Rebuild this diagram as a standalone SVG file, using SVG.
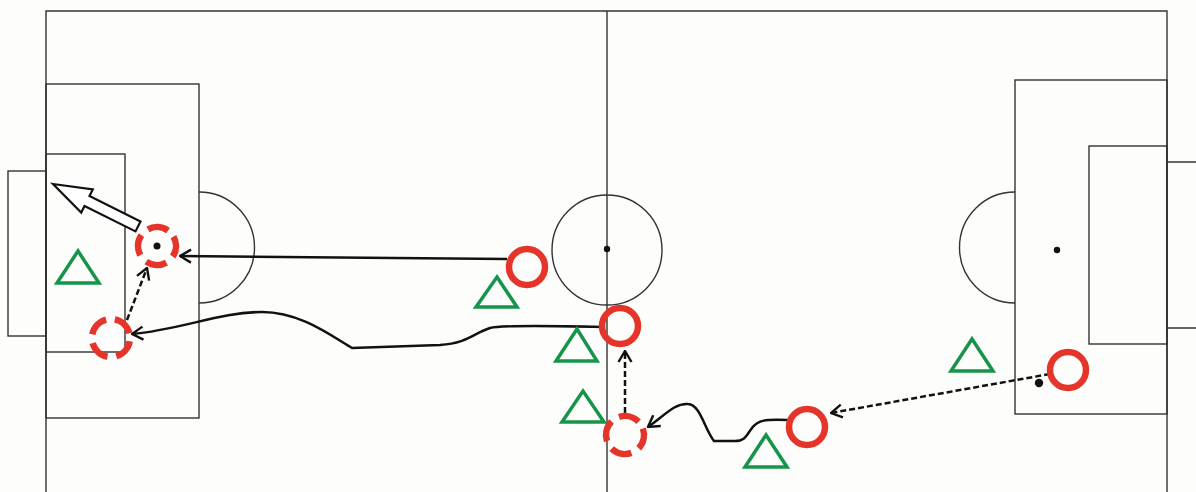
<svg xmlns="http://www.w3.org/2000/svg" width="1196" height="492" viewBox="0 0 1196 492">
<style>
.pitch{fill:none;stroke:#333;stroke-width:1.4}
.red{fill:none;stroke:#e5342a;stroke-width:6.5}
.reddash{fill:none;stroke:#e5342a;stroke-width:6.5;stroke-dasharray:21 8.85}
.tri{fill:none;stroke:#16954a;stroke-width:3.5;stroke-linejoin:miter}
.run{fill:none;stroke:#111;stroke-width:2.5}
.pass{fill:none;stroke:#111;stroke-width:2.5;stroke-dasharray:6 3}
</style>
<defs>
<marker id="ah" viewBox="0 0 13 16" refX="12" refY="8" markerWidth="13" markerHeight="16" markerUnits="userSpaceOnUse" orient="auto">
<path d="M1,1.5 L12,8 L1,14.5" fill="none" stroke="#111" stroke-width="2.4"/>
</marker>
</defs>
<rect x="0" y="0" width="1196" height="492" fill="#fdfdfc"/>
<g id="pitch">
<path class="pitch" d="M46,492 L46,11 L1167,11 L1167,492"/>
<line class="pitch" x1="607" y1="11" x2="607" y2="492"/>
<circle class="pitch" cx="607" cy="250" r="55"/>
<circle cx="607" cy="249" r="3.2" fill="#111"/>
<rect class="pitch" x="46" y="84" width="153" height="334"/>
<rect class="pitch" x="46" y="154" width="79" height="198"/>
<rect class="pitch" x="8" y="171" width="38" height="165"/>
<path class="pitch" d="M199,192 A55 55 0 0 1 199,303"/>
<rect class="pitch" x="1015" y="80" width="152" height="334"/>
<rect class="pitch" x="1089" y="146" width="78" height="198"/>
<path class="pitch" d="M1167,162 L1197,162 M1167,328 L1197,328"/>
<path class="pitch" d="M1015,192 A55 55 0 0 0 1015,303"/>
<circle cx="1057" cy="250" r="3.2" fill="#111"/>
<circle cx="1039" cy="383" r="4.2" fill="#111"/>
</g>
<g id="connectors">
<line class="run" x1="507" y1="259" x2="180" y2="256" marker-end="url(#ah)"/>
<path class="run" d="M603,327 C560,326 500,325 490,328 C472,334 468,343 440,345 L352,348 C330,335 300,312 262,312 C220,312 180,330 132,334" marker-end="url(#ah)"/>
<line class="pass" x1="127" y1="320" x2="147" y2="268" marker-end="url(#ah)"/>
<line class="pass" x1="625" y1="413" x2="625" y2="351" marker-end="url(#ah)"/>
<path class="run" d="M788,420 C765,419 758,420 752,428 C746,436 745,441 735,441 L714,441 C705,430 700,404 688,404 C675,403 665,415 648,427" marker-end="url(#ah)"/>
<line class="pass" x1="1050" y1="374" x2="831" y2="413" marker-end="url(#ah)"/>
<polygon points="53,184 92.8,189.4 89.5,196.1 140.5,221.6 135.5,231.4 84.5,205.9 81.2,212.6" fill="#fff" stroke="#111" stroke-width="2.2" stroke-linejoin="miter"/>
</g>
<g id="attacker-dashed-1"><circle class="reddash" cx="157" cy="246" r="19" transform="rotate(-30 157 246)"/><circle cx="157" cy="246" r="3.5" fill="#111"/></g>
<g id="attacker-dashed-2"><circle class="reddash" cx="111" cy="338" r="19" transform="rotate(10 111 338)"/></g>
<g id="attacker-dashed-3"><circle class="reddash" cx="625" cy="435" r="19" transform="rotate(-20 625 435)"/></g>
<g id="attacker-1"><circle class="red" cx="527" cy="267" r="18"/></g>
<g id="attacker-2"><circle class="red" cx="620" cy="326" r="18"/></g>
<g id="attacker-3"><circle class="red" cx="807" cy="427" r="18"/></g>
<g id="attacker-4"><circle class="red" cx="1068" cy="370" r="18"/></g>
<g id="defender-1"><polygon class="tri" points="57,283 99,283 78,251"/></g>
<g id="defender-2"><polygon class="tri" points="476,307 517,307 497,277"/></g>
<g id="defender-3"><polygon class="tri" points="556,361 597,361 577,329"/></g>
<g id="defender-4"><polygon class="tri" points="562,422 604,422 583,391"/></g>
<g id="defender-5"><polygon class="tri" points="745,467 787,467 766,435"/></g>
<g id="defender-6"><polygon class="tri" points="951,371 993,371 972,339"/></g>
</svg>
